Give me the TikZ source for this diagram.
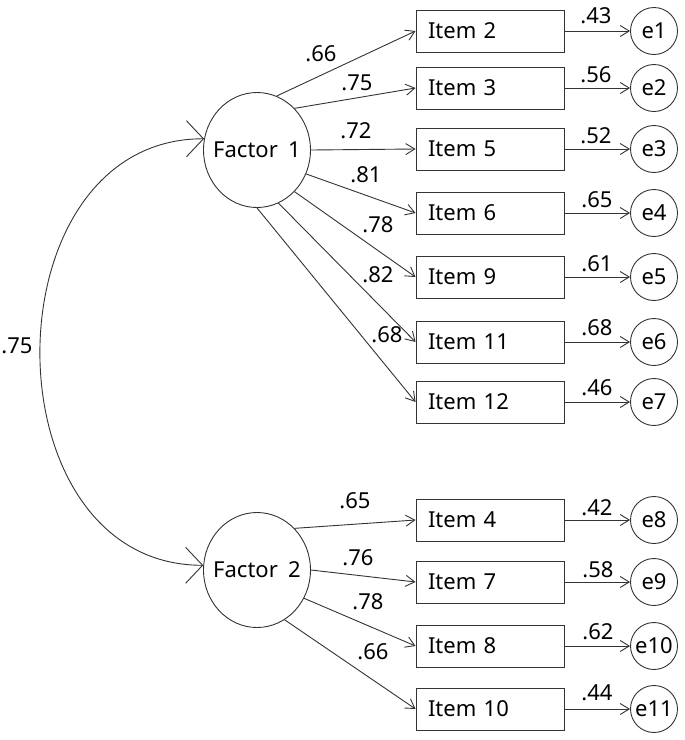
\documentclass[tikz,border=0pt]{standalone}
\usepackage{fontspec}
\setmainfont[WordSpace=1.8]{Noto Sans}
\usetikzlibrary{arrows.meta,shapes.geometric}
\begin{document}
\begin{tikzpicture}[x=1pt,y=-1pt,
  every node/.style={font=\fontsize{22}{26}\selectfont, text=black},
  latent/.style={draw=black!80, line width=0.9pt, ellipse, minimum width=107pt, minimum height=115pt, inner sep=0pt},
  itembox/.style={draw=black!80, line width=0.9pt, rectangle, minimum width=148pt, minimum height=42pt, inner sep=0pt, align=left, text width=124pt},
  errc/.style={draw=black!80, line width=0.9pt, circle, minimum size=47pt, inner sep=0pt},
  lpath/.style={draw=black!80, line width=0.9pt, -{Straight Barb[length=9pt,width=11pt]}},
  cov/.style={draw=black!80, line width=0.9pt, {Straight Barb[length=17pt,width=36pt]}-{Straight Barb[length=17pt,width=36pt]}},
  lab/.style={inner sep=0pt}]
\useasboundingbox (0,0) rectangle (685,740);
% latent factors
\node[latent] (f1) at (257,150) {\makebox[0pt]{Factor 1}};
\node[latent] (f2) at (257,570) {\makebox[0pt]{Factor 2}};
% items
\node[itembox] (i2)  at (490,31)  {Item 2};
\node[itembox] (i3)  at (490,88)  {Item 3};
\node[itembox] (i5)  at (490,149) {Item 5};
\node[itembox] (i6)  at (490,213) {Item 6};
\node[itembox] (i9)  at (490,277) {Item 9};
\node[itembox] (i11) at (490,342) {Item 11};
\node[itembox] (i12) at (490,402) {Item 12};
\node[itembox] (i4)  at (490,520) {Item 4};
\node[itembox] (i7)  at (490,582) {Item 7};
\node[itembox] (i8)  at (490,646) {Item 8};
\node[itembox] (i10) at (490,709) {Item 10};
% errors
\node[errc] (e1)  at (654,31)  {e1};
\node[errc] (e2)  at (654,88)  {e2};
\node[errc] (e3)  at (654,149) {e3};
\node[errc] (e4)  at (654,213) {e4};
\node[errc] (e5)  at (654,277) {e5};
\node[errc] (e6)  at (654,342) {e6};
\node[errc] (e7)  at (654,402) {e7};
\node[errc] (e8)  at (654,520) {e8};
\node[errc] (e9)  at (654,582) {e9};
\node[errc] (e10) at (654,646) {e10};
\node[errc] (e11) at (654,709) {e11};
% loadings factor 1
\draw[lpath] (f1.70)  -- (i2.west);
\draw[lpath] (f1.48)  -- (i3.west);
\draw[lpath] (f1.0)   -- (i5.west);
\draw[lpath] (f1.-26) -- (i6.west);
\draw[lpath] (f1.-48) -- (i9.west);
\draw[lpath] (f1.-68) -- (i11.west);
\draw[lpath] (f1.-90) -- (i12.west);
% loadings factor 2
\draw[lpath] (f2.48)  -- (i4.west);
\draw[lpath] (f2.0)   -- (i7.west);
\draw[lpath] (f2.-31) -- (i8.west);
\draw[lpath] (f2.-61) -- (i10.west);
% item -> error
\foreach \i/\e in {i2/e1,i3/e2,i5/e3,i6/e4,i9/e5,i11/e6,i12/e7,i4/e8,i7/e9,i8/e10,i10/e11}
  \draw[lpath] (\i.east) -- (\e.west);
% covariance
\draw[cov] (f1.168) .. controls +(-218,0) and +(-218,0) .. (f2.175);
% loading labels
\node[lab] (l1) at (321,54)  {.66};
\node[lab] (l2) at (357,83)  {.75};
\node[lab] (l3) at (356,131) {.72};
\node[lab] (l4) at (366,175) {.81};
\node[lab] (l5) at (378,225) {.78};
\node[lab] (l6) at (378,275) {.82};
\node[lab] (l7) at (387,335) {.68};
\node[lab] (l8) at (355,501) {.65};
\node[lab] (l9) at (358,558) {.76};
\node[lab] (l10) at (368,602) {.78};
\node[lab] (l11) at (373,652) {.66};
% error labels
\node[lab] (m1) at (596,16)  {.43};
\node[lab] (m2) at (596,75)  {.56};
\node[lab] (m3) at (596,136) {.52};
\node[lab] (m4) at (597,200) {.65};
\node[lab] (m5) at (597,264) {.61};
\node[lab] (m6) at (597,328) {.68};
\node[lab] (m7) at (597,388) {.46};
\node[lab] (m8) at (597,508) {.42};
\node[lab] (m9) at (598,570) {.58};
\node[lab] (m10) at (598,632) {.62};
\node[lab] (m11) at (597,693) {.44};
% covariance label
\node[lab] (c1) at (17,346) {.75};
\end{tikzpicture}
\end{document}
